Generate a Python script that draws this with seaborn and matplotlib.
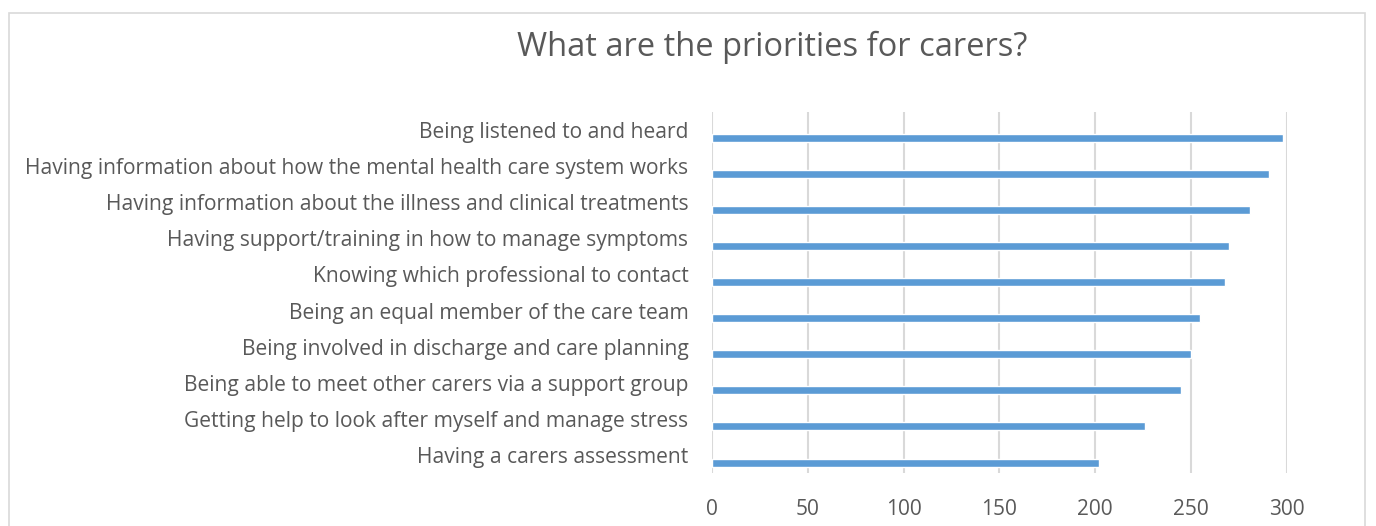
import numpy as np
import pandas as pd
import seaborn as sns
import matplotlib
matplotlib.use("Agg")
import matplotlib.pyplot as plt
from matplotlib.patches import Rectangle

categories = [
    "Being listened to and heard",
    "Having information about how the mental health care system works",
    "Having information about the illness and clinical treatments",
    "Having support/training in how to manage symptoms",
    "Knowing which professional to contact",
    "Being an equal member of the care team",
    "Being involved in discharge and care planning",
    "Being able to meet other carers via a support group",
    "Getting help to look after myself and manage stress",
    "Having a carers assessment",
]
values = [298, 291, 281, 270, 268, 255, 250, 245, 226, 202]
x_ticks = [0, 50, 100, 150, 200, 250, 300]
title = "What are the priorities for carers?"

sns.set_theme(style="white")
plt.rcParams['font.family'] = ['Open Sans', 'DejaVu Sans']

text_color = "#595959"
fig = plt.figure(figsize=(13.76, 5.26), dpi=100)
ax = fig.add_axes([712/1376, 1-473/526, (1286.7-712)/1376, (473-112)/526])

df = pd.DataFrame({"category": categories, "value": values})
sns.barplot(data=df, x="value", y="category", color="#5b9bd5", width=0.22,
            saturation=1, ax=ax, zorder=3)

off = 0.21  # bars sit below the category centre, as in Excel's clustered layout
n = len(categories)
ax.set_xlim(0, 300)
ax.set_ylim(n - 0.5 - off, -0.5 - off)
ax.set_xticks(x_ticks)
ax.set_xticklabels([str(t) for t in x_ticks], fontsize=15, color=text_color)
ax.set_yticks(np.arange(n) - off)
ax.set_yticklabels(categories, fontsize=15.1, color=text_color)
ax.tick_params(axis='y', length=0, pad=17)
ax.tick_params(axis='x', length=0, pad=19)
ax.set_xlabel("")
ax.set_ylabel("")
for s in ax.spines.values():
    s.set_visible(False)
ax.grid(axis='x', color="#d9d9d9", linewidth=1.5, zorder=0)
ax.grid(axis='y', visible=False)

fig.text(772/1376, 1-47/526, title, ha='center', va='center', fontsize=23.5,
         color=text_color)

fig.patches.append(Rectangle((9/1376, -0.05), (1365-9)/1376, 1.05-13/526,
                             transform=fig.transFigure, fill=False,
                             edgecolor="#d9d9d9", linewidth=1.2))

fig.savefig("out.png", dpi=100, facecolor="white")
